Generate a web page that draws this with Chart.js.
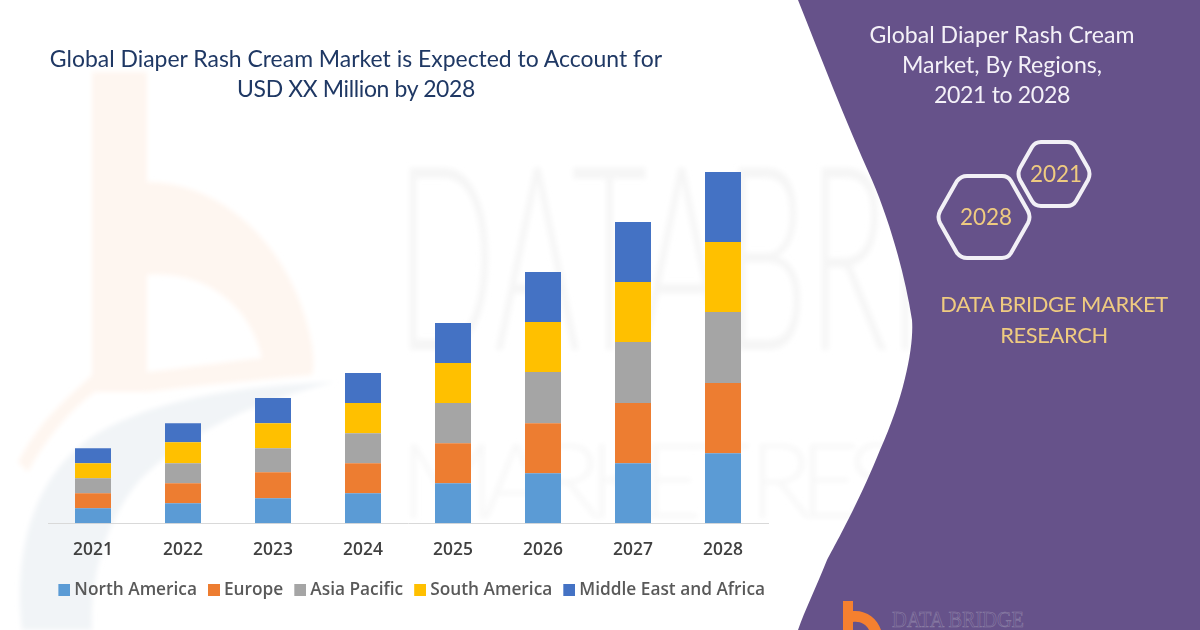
<!DOCTYPE html>
<html>
<head>
<meta charset="utf-8">
<script src="https://cdn.jsdelivr.net/npm/chart.js@4"></script>
<style>
html,body{margin:0;padding:0;background:#fff;}
#stage{position:relative;width:1200px;height:630px;overflow:hidden;background:#fff;}
#bg,#c{position:absolute;left:0;top:0;}
.t{position:absolute;font-family:Lato,sans-serif;text-align:center;white-space:nowrap;}
#title{left:6px;width:700px;top:43px;font-size:22.95px;line-height:30px;color:#1F3864;}
#side{left:702px;width:600px;top:19px;font-size:23.1px;line-height:30px;color:#F4F1F8;}
#brand{left:854px;width:400px;top:288px;font-size:21.9px;line-height:31px;letter-spacing:-.38px;color:#EFCB80;}
.y{color:#EFCB80;font-size:22.5px;line-height:28px;width:80px;}
.n{letter-spacing:-.36px;}
</style>
</head>
<body>
<div id="stage">
<svg id="bg" width="1200" height="630" viewBox="0 0 1200 630">
  <defs><filter id="blur"><feGaussianBlur stdDeviation="2.5"/></filter></defs>
  <g filter="url(#blur)">
    <path fill-rule="evenodd" fill="#FEF6F0" d="M92 72H147V182C225 182 295 250 312 345C314 358 314 368 312 375C260 380 200 385 147 392L95 392C70 410 45 440 28 472L18 462C40 420 65 400 92 375ZM147 275V372C185 368 225 362 262 358C250 305 205 270 147 275Z"/>
    <path d="M22 630C12 540 40 470 95 435C160 395 260 385 335 382C260 400 190 430 140 480C105 520 90 580 92 630Z" fill="#F1F4F7"/>
    <text x="396" y="350" font-family="Lato" font-weight="300" font-size="258" textLength="800" lengthAdjust="spacingAndGlyphs" fill="#F6F6F6">DATABRIDGE</text>
    <text x="400" y="518" font-family="Lato" font-weight="300" font-size="105" textLength="780" lengthAdjust="spacing" fill="#F8F8F8">MARKET RESEARCH</text>
  </g>
  <path d="M798 0C820 55 845 120 872 180C890 222 905 275 912 320C914 345 905 395 880 450C860 500 835 545 827 560C815 590 805 610 798 630H1200V0Z" fill="#66528A"/>
  <g fill="none" stroke="#F2F0F6" stroke-width="4" stroke-linejoin="round">
    <path d="M940 211L957 181Q961 176 967 176H1002Q1008 176 1011 181L1028 211Q1031 217 1028 223L1011 253Q1008 258 1002 258H967Q961 258 957 253L940 223Q937 217 940 211Z"/>
    <path d="M1020 168L1032 147Q1035 142 1041 142H1067Q1073 142 1076 147L1088 168Q1091 174 1088 180L1076 201Q1073 206 1067 206H1041Q1035 206 1032 201L1020 180Q1017 174 1020 168Z"/>
  </g>
  <path fill-rule="evenodd" d="M843 601H853V611C866 610 877 618 881 630H869C866 624 860 621 853 622V630H843Z" fill="#F5802F"/>
  <text x="892" y="627" font-family="Liberation Serif" font-size="24" fill="none" stroke="#8C80A6" stroke-width=".6" textLength="132" lengthAdjust="spacingAndGlyphs">DATA BRIDGE</text>
</svg>
<canvas id="c" width="1200" height="630"></canvas>
<div class="t" id="title">Global Diaper Rash Cream Market is Expected to Account for<br><span class="n">USD XX Million by 2028</span></div>
<div class="t" id="side">Global Diaper Rash Cream<br>Market, By Regions,<br><span class="n">2021 to 2028</span></div>
<div class="t" id="brand">DATA BRIDGE MARKET<br>RESEARCH</div>
<div class="t y" style="left:946px;top:203px">2028</div>
<div class="t y" style="left:1016px;top:160px">2021</div>
</div>
<script>
const categories = ["2021","2022","2023","2024","2025","2026","2027","2028"];
const northAmerica = [1.5,2.0,2.5,3.0,4.0,5.0,6.0,7.0];
const europe       = [1.5,2.0,2.6,3.0,4.0,5.0,6.0,7.0];
const asiaPacific  = [1.5,2.0,2.4,3.0,4.0,5.1,6.1,7.1];
const southAmerica = [1.5,2.1,2.5,3.0,4.0,5.0,6.0,7.0];
const middleEastAfrica = [1.5,1.9,2.5,3.0,4.0,5.0,6.0,7.0];
const seriesNames = ["North America","Europe","Asia Pacific","South America","Middle East and Africa"];
const seriesColors = ["#5B9BD5","#ED7D31","#A5A5A5","#FFC000","#4472C4"];
const seriesValues = [northAmerica,europe,asiaPacific,southAmerica,middleEastAfrica];
function swatch(color){
  const s=document.createElement("canvas");s.width=20;s.height=12;
  const g=s.getContext("2d");g.fillStyle=color;g.fillRect(8,0,12,12);
  return s;
}
const spacer = {display:true,ticks:{display:false},grid:{display:false},border:{display:false}};
new Chart(document.getElementById("c"),{
  type:"bar",
  data:{labels:categories,datasets:seriesValues.map((d,i)=>({label:seriesNames[i],data:d,backgroundColor:seriesColors[i],borderWidth:0,barPercentage:0.4,categoryPercentage:1,yAxisID:"y"}))},
  options:{
    responsive:false,animation:false,
    layout:{padding:{left:26,right:406,top:123,bottom:21}},
    plugins:{
      title:{display:false},tooltip:{enabled:false},
      legend:{position:"bottom",labels:{
        usePointStyle:true,pointStyleWidth:10.7,boxHeight:12,padding:7.65,color:"#595959",
        font:{family:"Open Sans",size:17.3,weight:"600"},
        generateLabels(chart){
          return Chart.defaults.plugins.legend.labels.generateLabels(chart).map((l,i)=>({...l,pointStyle:swatch(seriesColors[i])}));
        }
      }}
    },
    scales:{
      x:{stacked:true,grid:{display:false,drawTicks:false},border:{color:"#D9D9D9",width:1},
         afterFit(a){a.height-=2;},
         ticks:{padding:16,color:"#404040",font:{family:"Open Sans",size:17.4,weight:"600"}}},
      y:{...spacer,stacked:true,min:0,max:40,afterFit(a){a.width=22;}},
      yR:{...spacer,position:"right",min:0,max:40,afterFit(a){a.width=26;}}
    }
  }
});
</script>
</body>
</html>
